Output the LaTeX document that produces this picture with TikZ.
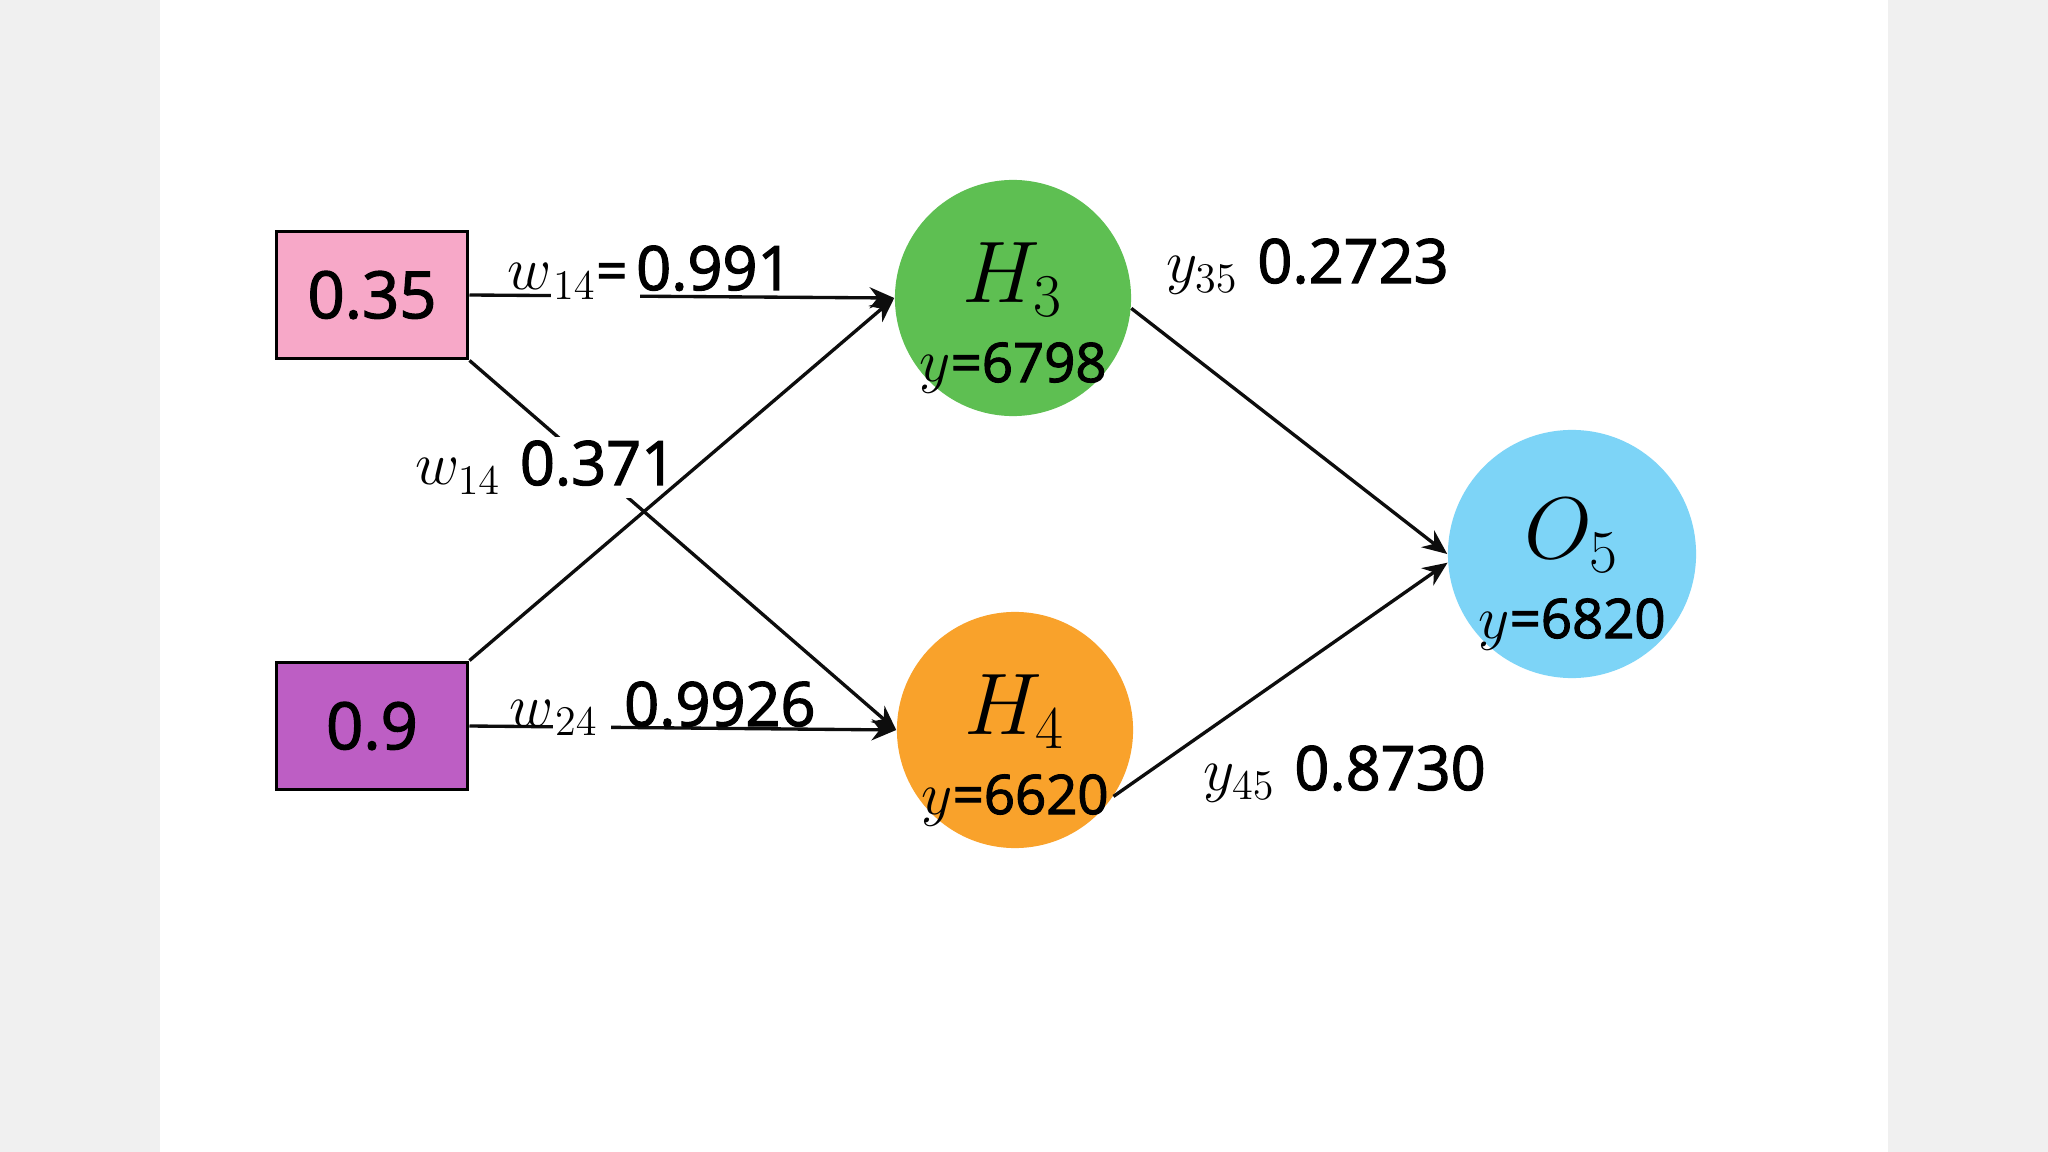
\documentclass[tikz,border=0pt]{standalone}
\usepackage{fontspec}
\usepackage{tikz}
\usetikzlibrary{arrows.meta,positioning,calc}
\newfontfamily\numfont{Open Sans}[FakeBold=2]
\newcommand{\wnum}[1]{{\fontsize{17.4}{21}\selectfont\numfont #1}}
\newcommand{\vnum}[1]{{\fontsize{15.5}{19}\selectfont\numfont #1}}
\newcommand{\gapbox}[1]{{\setlength{\fboxsep}{0.5pt}\colorbox{white}{#1}}}
\definecolor{bggray}{RGB}{240,240,240}
\definecolor{inpink}{RGB}{247,168,200}
\definecolor{inpurple}{RGB}{189,94,196}
\definecolor{hgreen}{RGB}{94,191,82}
\definecolor{horange}{RGB}{249,162,43}
\definecolor{oblue}{RGB}{125,212,247}

\begin{document}
\begin{tikzpicture}[x=0.01cm, y=-0.01cm, >={Stealth[length=7pt,width=6pt]},
  inbox/.style={draw=black, line width=1.1pt, minimum width=1.91cm, minimum height=1.27cm,
                inner sep=0pt, font=\fontsize{18.5}{22}\selectfont\numfont},
  neuron/.style={circle, minimum size=2.36cm, inner sep=0pt},
  nsym/.style={anchor=base, inner sep=0pt, font=\fontsize{23}{27}\selectfont},
  nval/.style={anchor=base, inner sep=0pt, font=\fontsize{18}{22}\selectfont},
  wlab/.style={anchor=base west, inner sep=1pt, font=\fontsize{18}{22}\selectfont},
  edge/.style={line width=0.95pt, draw=black!95}]
\fill[bggray] (0,0) rectangle (2048,1152);
\fill[white] (160,0) rectangle (1888,1152);
\useasboundingbox (0,0) rectangle (2048,1152);

% inputs and neurons
\node[inbox, fill=inpink] (in1) at (372,295) {0.35};
\node[inbox, fill=inpurple] (in2) at (372,726) {0.9};
\node[neuron, fill=hgreen] (h3) at (1013,298) {};
\node[neuron, fill=horange] (h4) at (1015,730) {};
\node[neuron, minimum size=2.48cm, fill=oblue] (o5) at (1572,554) {};
\foreach \n/\s/\v in {h3/H_3/6798, h4/H_4/6620, o5/O_5/6820}{
  \node[nsym] (\n-name) at ($(\n)+(0,5)$) {$\s$};
  \node[nval] (\n-val) at ($(\n)+(0,84)$) {$y$\vnum{=\v}};
}

% connections
\draw[edge, ->] (in1.east) -- (h3.west);
\draw[edge, ->] (in2.east) -- (h4.west);
\draw[edge, ->] (in1.south east) -- (h4.west);
\draw[edge, ->] (h3.-5) -- (o5.west);
\draw[edge, ->] (h4.-34) -- (o5.184);

% weights
\node[wlab] (w13-sym) at (503,290) {$w$\gapbox{$_{14}$\vnum{=}\,}};
\node[wlab] (w13-num) at (632,290) {\wnum{0.991}};
\node[wlab, fill=white] (w14-lab) at (411,485) {$w_{14}$ \wnum{0.371}};
\node[wlab] (w24-sym) at (505,726) {$w$\gapbox{$_{24}$\,}};
\node[wlab] (w24-num) at (620,726) {\wnum{0.9926}};
\node[wlab] (y35-lab) at (1162,283) {$y_{35}$ \wnum{0.2723}};
\node[wlab] (y45-lab) at (1199,790) {$y_{45}$ \wnum{0.8730}};
\draw[edge, ->] (in2.north east) -- (h3.west);
\end{tikzpicture}
\end{document}
